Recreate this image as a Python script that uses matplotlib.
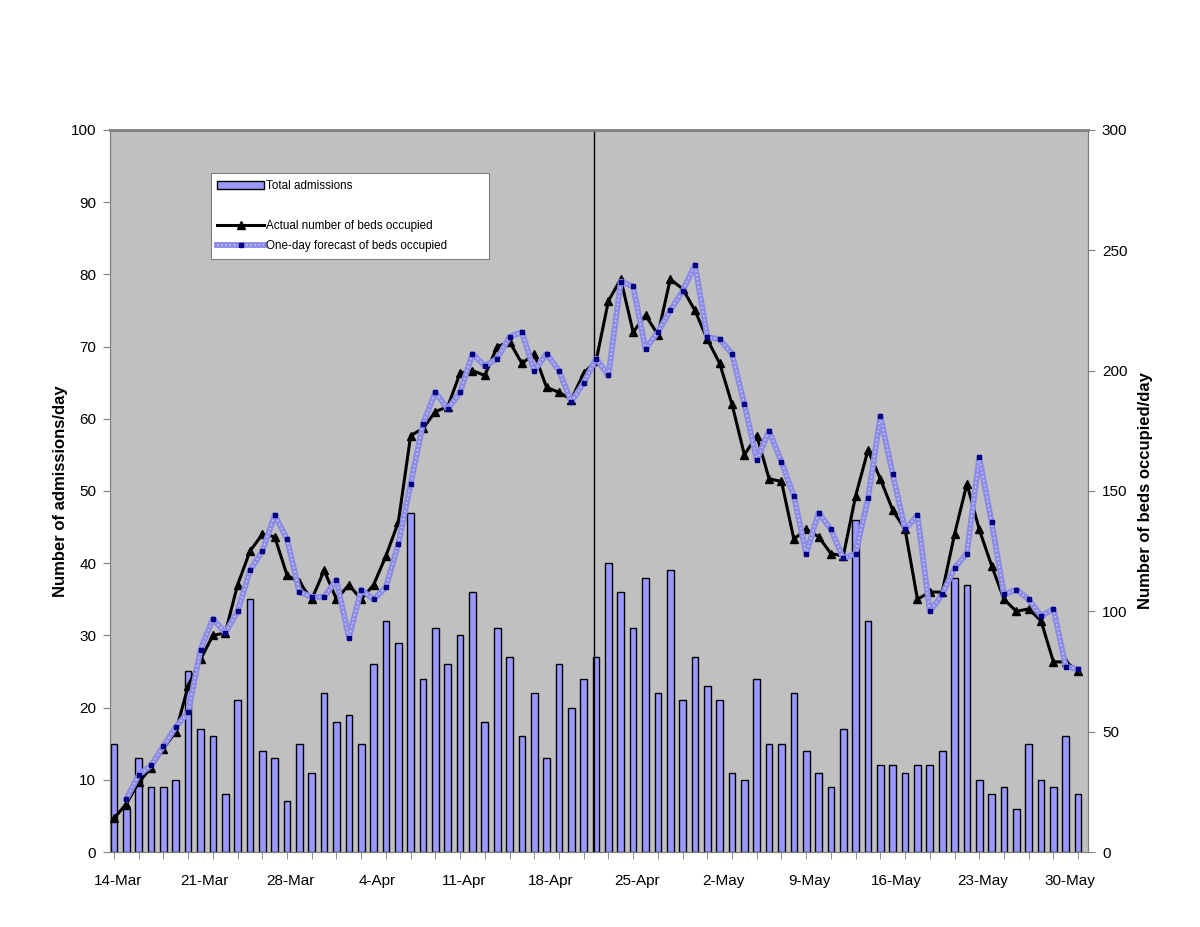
import numpy as np
import matplotlib.pyplot as plt
from matplotlib.patches import Patch
from matplotlib.lines import Line2D

plt.rcParams['font.family'] = ['Liberation Sans', 'DejaVu Sans']

# daily values, 14-Mar .. 31-May
admissions = [15, 6, 13, 9, 9, 10, 25, 17, 16, 8,
              21, 35, 14, 13, 7, 15, 11, 22, 18, 19,
              15, 26, 32, 29, 47, 24, 31, 26, 30, 36,
              18, 31, 27, 16, 22, 13, 26, 20, 24, 27,
              40, 36, 31, 38, 22, 39, 21, 27, 23, 21,
              11, 10, 24, 15, 15, 22, 14, 11, 9, 17,
              46, 32, 12, 12, 11, 12, 12, 14, 38, 37,
              10, 8, 9, 6, 15, 10, 9, 16, 8]

beds_actual = [14, 20, 29, 35, 43, 50, 69, 80, 90, 91,
               111, 125, 132, 131, 115, 112, 105, 117, 105, 111,
               105, 111, 123, 137, 173, 176, 183, 185, 199, 200,
               198, 210, 212, 203, 207, 193, 191, 188, 199, 204,
               229, 238, 216, 223, 215, 238, 234, 225, 213, 203,
               186, 165, 173, 155, 154, 130, 134, 131, 124, 123,
               148, 167, 155, 142, 134, 105, 108, 108, 132, 153,
               134, 119, 105, 100, 101, 96, 79, 79, 75]

beds_forecast = [np.nan, 22, 32, 36, 44, 52, 58, 84, 97, 91,
                 100, 117, 125, 140, 130, 108, 106, 106, 113, 89,
                 109, 105, 110, 128, 153, 178, 191, 184, 191, 207,
                 202, 205, 214, 216, 200, 207, 200, 187, 195, 205,
                 198, 237, 235, 209, 216, 225, 233, 244, 214, 213,
                 207, 186, 163, 175, 162, 148, 124, 141, 134, 122,
                 124, 147, 181, 157, 134, 140, 100, 107, 118, 124,
                 164, 137, 107, 109, 105, 98, 101, 77, 76]

tick_labels = ['14-Mar', '21-Mar', '28-Mar', '4-Apr', '11-Apr', '18-Apr',
               '25-Apr', '2-May', '9-May', '16-May', '23-May', '30-May']

change_day = 38.85  # vertical marker, ~22-Apr

days = np.arange(len(admissions))

fig = plt.figure(figsize=(12, 9.27), dpi=100)
ax = fig.add_axes([0.0917, 0.0809, 0.815, 0.7789])
ax.set_facecolor('#C0C0C0')

ax.bar(days, admissions, width=0.54, color='#9999FF', edgecolor='black',
       linewidth=1, zorder=2)
ax.axvline(change_day, color='black', lw=1, zorder=3)

ax.set_xlim(-0.32, 78.8)
ax.set_ylim(0, 100)
ax.set_yticks(np.arange(0, 101, 10))
ax.set_xticks(days[::7] + 0.3)
ax.set_xticklabels(tick_labels)
ax.set_xticks(days[::2], minor=True)
ax.xaxis.remove_overlapping_locs = False
ax.tick_params(axis='x', which='major', length=0, pad=16, labelsize=11)
ax.tick_params(axis='x', which='minor', length=5, color='#808080')
ax.tick_params(axis='y', length=5, color='#808080', pad=5, labelsize=11)
ax.set_ylabel('Number of admissions/day', fontsize=12, fontweight='bold')
ax.yaxis.set_label_coords(-0.043, 0.5)
for s in ax.spines.values():
    s.set_color('#808080')

ax2 = ax.twinx()
ax2.set_ylim(0, 300)
ax2.set_yticks(np.arange(0, 301, 50))
ax2.tick_params(axis='y', length=5, color='#808080', pad=5, labelsize=11)
ax2.set_ylabel('Number of beds occupied/day', fontsize=12, fontweight='bold')
ax2.yaxis.set_label_coords(1.051, 0.5)
for s in ax2.spines.values():
    s.set_color('#808080')
ax2.spines['top'].set_linewidth(2)

ax2.plot(days, beds_actual, color='black', lw=2.2, marker='^', ms=6,
         zorder=3)
ax2.plot(days, beds_forecast, color='#8C8CE6', lw=4.2, zorder=4)
ax2.plot(days, beds_forecast, color='#C4C4F2', lw=1.2, ls=(0, (1, 1.5)),
         marker='s', ms=3.5, mfc='#000080', mec='#000080', zorder=5)

h_bar = Patch(facecolor='#9999FF', edgecolor='black', lw=1)
h_blank = Line2D([], [], color='none')
h_act = Line2D([], [], color='black', lw=2.2, marker='^', ms=6)
h_fc1 = Line2D([], [], color='#8C8CE6', lw=4.2)
h_fc2 = Line2D([], [], color='#C4C4F2', lw=1.2, ls=(0, (1, 1.5)),
               marker='s', ms=3.5, mfc='#000080', mec='#000080')
leg = ax2.legend([h_bar, h_blank, h_act, (h_fc1, h_fc2)],
                 ['Total admissions', ' ', 'Actual number of beds occupied',
                  'One-day forecast of beds occupied'],
                 loc='upper left', bbox_to_anchor=(0.103, 0.823, 0.284, 0.117),
                 mode='expand', borderaxespad=0, fontsize=8.4,
                 handlelength=4.0, handletextpad=0.15,
                 labelspacing=0.7, borderpad=0.55, fancybox=False,
                 framealpha=1, edgecolor='#808080')
leg.get_frame().set_linewidth(0.8)

fig.savefig('out.png', dpi=100, facecolor='white')
